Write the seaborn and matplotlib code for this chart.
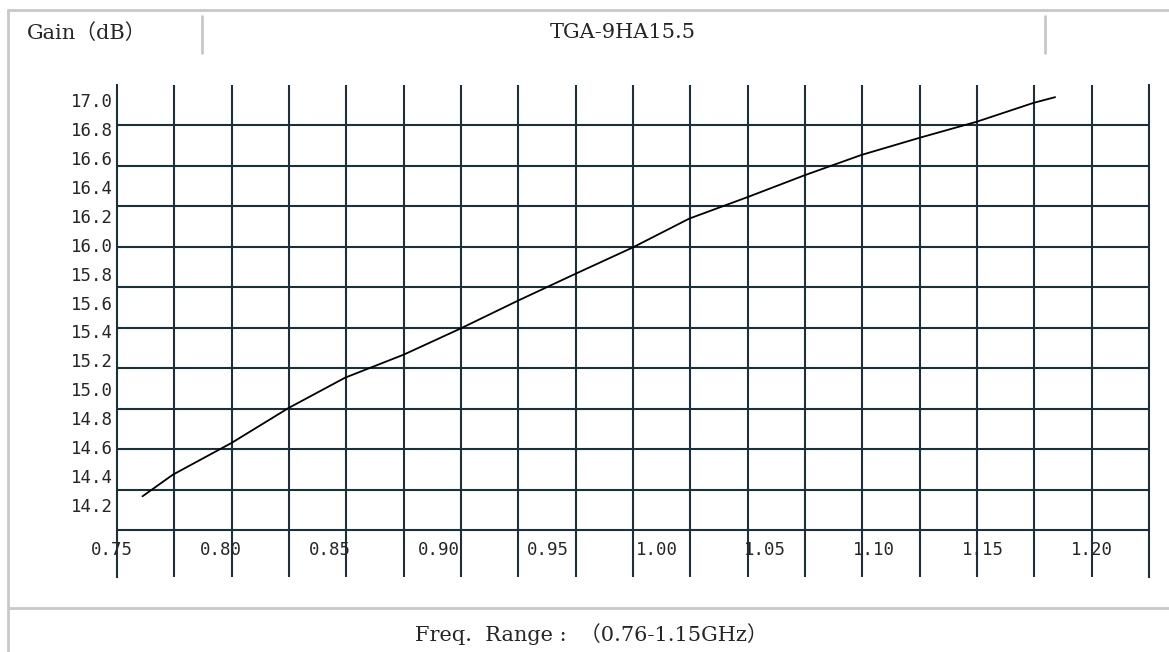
import numpy as np
import matplotlib
matplotlib.use('Agg')
import matplotlib.pyplot as plt
from matplotlib.lines import Line2D
import seaborn as sns

# gain curve
freq_ghz = [0.764, 0.778, 0.805, 0.831, 0.857, 0.884, 0.910, 0.936, 0.963, 0.989,
            1.015, 1.042, 1.068, 1.094, 1.121, 1.147, 1.173, 1.183]
gain_db = [14.26, 14.41, 14.63, 14.87, 15.08, 15.24, 15.42, 15.61, 15.80, 15.98,
           16.18, 16.33, 16.48, 16.62, 16.74, 16.85, 16.98, 17.02]

x_ticks = [0.75, 0.80, 0.85, 0.90, 0.95, 1.00, 1.05, 1.10, 1.15, 1.20]
x_tick_labels = ['0.75', '0.80', '0.85', '0.90', '0.95', '1.00', '1.05', '1.10', '1.15', '1.20']
y_ticks = [17.0, 16.8, 16.6, 16.4, 16.2, 16.0, 15.8, 15.6, 15.4, 15.2, 15.0, 14.8, 14.6, 14.4, 14.2]
y_tick_labels = ['17.0', '16.8', '16.6', '16.4', '16.2', '16.0', '15.8', '15.6', '15.4', '15.2',
                 '15.0', '14.8', '14.6', '14.4', '14.2']

header_left = 'Gain（dB）'
header_mid = 'TGA-9HA15.5'
footer = 'Freq.  Range :  （0.76-1.15GHz）'

sns.set_style('white')
plt.rcParams['font.family'] = ['DejaVu Sans Mono', 'Noto Sans CJK SC']

grid_color = '#1c303b'
frame_color = '#c8c8c8'
serif_fonts = ['DejaVu Serif', 'Noto Sans CJK SC']

fig = plt.figure(figsize=(11.69, 6.52), dpi=100)
ax = fig.add_axes([117 / 1169, 1 - 577 / 652, 1032 / 1169, 492 / 652])

sns.lineplot(x=freq_ghz, y=gain_db, ax=ax, color='black', linewidth=1.3, zorder=3)

x_lim = (0.7523, 1.2261)
y_lim = (13.702, 17.104)
ax.set_xlim(x_lim)
ax.set_ylim(y_lim)

# the grid of the datasheet does not follow the tick labels
ax.set_xticks(np.linspace(x_lim[0], x_lim[1], 19)[1:-1], minor=True)
ax.set_yticks(y_lim[1] - 0.28 * np.arange(1, 12), minor=True)
ax.grid(which='minor', color=grid_color, linewidth=1.5)
ax.grid(which='major', visible=False)

ax.set_yticks(y_ticks)
ax.set_yticklabels(y_tick_labels, fontsize=12.5)
ax.set_xticks([])
ax.tick_params(axis='y', which='both', length=0, pad=3)
ax.tick_params(axis='x', which='both', length=0)

for v, lab in zip(x_ticks, x_tick_labels):
    ax.text(v, 0.055, lab, transform=ax.get_xaxis_transform(), ha='center', va='center',
            fontsize=12.5, clip_on=False, zorder=4)

for side in ['top', 'bottom']:
    ax.spines[side].set_visible(False)
for side in ['left', 'right']:
    ax.spines[side].set_color(grid_color)
    ax.spines[side].set_linewidth(1.5)
ax.set_xlabel('')
ax.set_ylabel('')

# panel frame around the chart
def frame_line(x0, y0, x1, y1):
    fig.add_artist(Line2D([x0 / 1169, x1 / 1169], [1 - y0 / 652, 1 - y1 / 652],
                          color=frame_color, linewidth=2))

frame_line(8, 10, 1169, 10)
frame_line(8, 10, 8, 652)
frame_line(8, 608, 1169, 608)
frame_line(202, 16, 202, 53)
frame_line(1045, 16, 1045, 53)

fig.text(27 / 1169, 1 - 33 / 652, header_left, ha='left', va='center', fontsize=15, family=serif_fonts)
fig.text(623 / 1169, 1 - 33 / 652, header_mid, ha='center', va='center', fontsize=15, family=serif_fonts)
fig.text(591 / 1169, 1 - 634 / 652, footer, ha='center', va='center', fontsize=15, family=serif_fonts)

fig.savefig('out.png', dpi=100, facecolor='white')
